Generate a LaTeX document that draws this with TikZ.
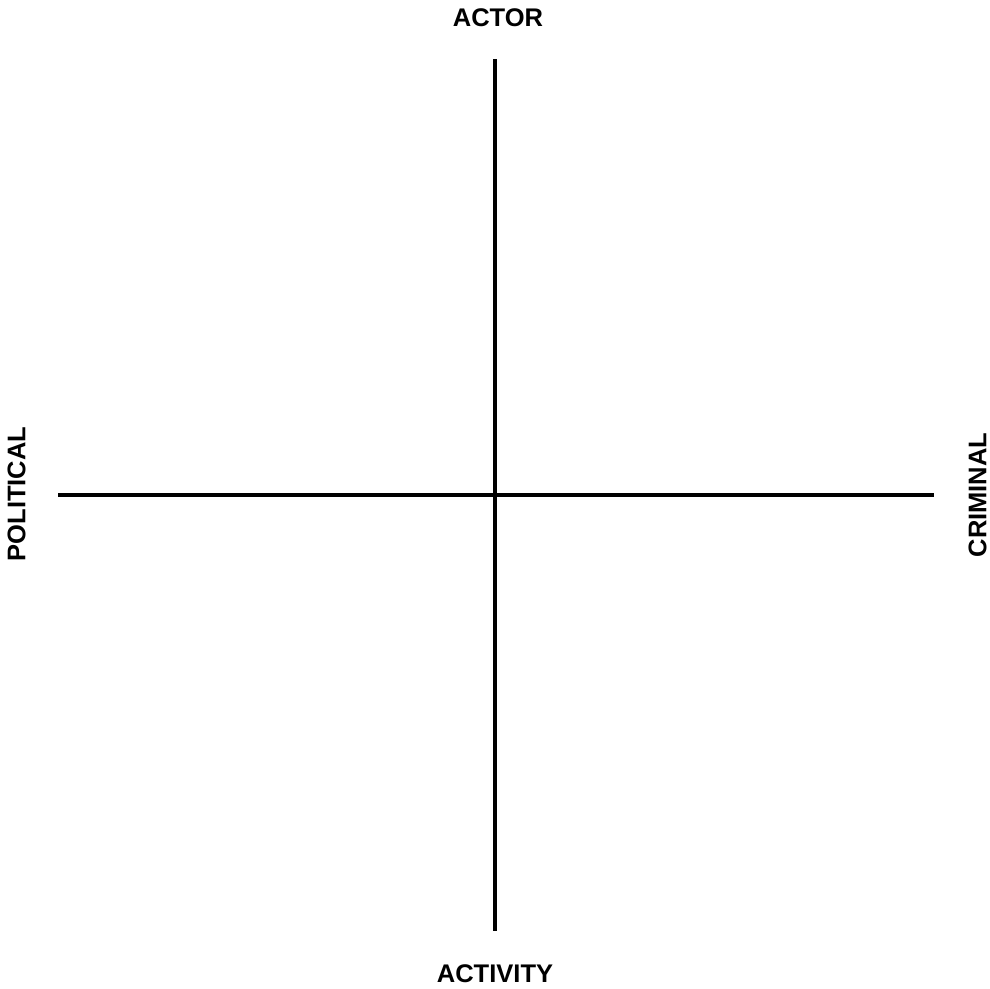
\documentclass[tikz,border=0pt]{standalone}
\usepackage{fontspec}
\setmainfont{Liberation Sans}
\begin{document}
\begin{tikzpicture}[x=1pt,y=-1pt,
  axis/.style={line width=4pt},
  lbl/.style={font=\bfseries\fontsize{25.5}{29}\selectfont, inner sep=0pt}]
\useasboundingbox[fill=white] (0,0) rectangle (990,988);
\coordinate (top) at (495,59);
\coordinate (bot) at (495,931);
\coordinate (lft) at (58,494.5);
\coordinate (rgt) at (934,494.5);
\draw[axis] (top) -- (bot);
\draw[axis] (lft) -- (rgt);
\node[lbl] (actor) at (498,18) {ACTOR};
\node[lbl] (activity) at (495,974) {ACTIVITY};
\node[lbl, rotate=90] (political) at (16.5,494) {POLITICAL};
\node[lbl, rotate=90] (criminal) at (977.5,495) {CRIMINAL};
\end{tikzpicture}
\end{document}
